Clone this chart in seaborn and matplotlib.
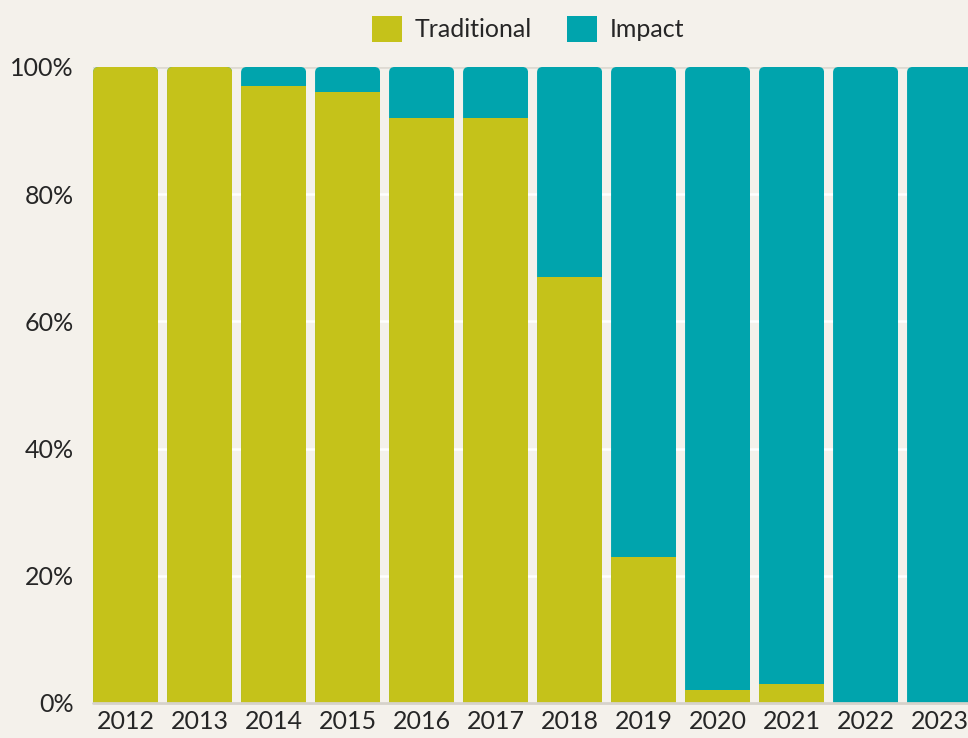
import matplotlib
matplotlib.use("Agg")
import matplotlib.pyplot as plt
import seaborn as sns
import pandas as pd
from matplotlib.patches import FancyBboxPatch, Patch

years = ["2012", "2013", "2014", "2015", "2016", "2017", "2018", "2019", "2020", "2021", "2022", "2023"]
traditional = [100, 100, 97, 96, 92, 92, 67, 23, 2, 3, 0, 0]
impact = [0, 0, 3, 4, 8, 8, 33, 77, 98, 97, 100, 100]
y_ticks = [0, 20, 40, 60, 80, 100]
y_labels = ["0%", "20%", "40%", "60%", "80%", "100%"]

BG = "#f4f1eb"
YEL = "#c5c21a"
TEAL = "#00a4ad"
TXT = "#262626"

df = pd.DataFrame({"year": years, "traditional": traditional, "impact": impact})
df["total"] = df["traditional"] + df["impact"]

sns.set_theme(style="white")
plt.rcParams["font.family"] = ["Lato", "DejaVu Sans"]

fig = plt.figure(figsize=(9.68, 7.38), dpi=100, facecolor=BG)
ax_left_px, ax_bottom_px, ax_top_px = 93, 703, 67
bar_step = 74.0
xmin, xmax = -0.44, 11.5
ax_w_px = (xmax - xmin) * bar_step
ax = fig.add_axes([ax_left_px / 968, (738 - ax_bottom_px) / 738,
                   ax_w_px / 968, (ax_bottom_px - ax_top_px) / 738])
ax.set_facecolor(BG)

width = 65 / 74
sns.barplot(data=df, x="year", y="total", color=TEAL, width=width, saturation=1,
            ax=ax, zorder=2, linewidth=0)
sns.barplot(data=df, x="year", y="traditional", color=YEL, width=width, saturation=1,
            ax=ax, zorder=3, linewidth=0)

ax.set_xlim(xmin, xmax)
ax.set_ylim(0, 100)

# rounded top corners via clip paths
px_per_y = (ax_bottom_px - ax_top_px) / 100.0
aspect = bar_step / px_per_y
r = 5.5 / bar_step
for p in ax.patches:
    x0 = p.get_x()
    w = p.get_width()
    clip = FancyBboxPatch((x0, -10), w, 110,
                          boxstyle=f"round,pad=0,rounding_size={r}",
                          mutation_aspect=aspect, transform=ax.transData,
                          facecolor="none", edgecolor="none")
    p.set_clip_path(clip)

ax.set_yticks(y_ticks)
ax.set_yticklabels(y_labels)
ax.grid(axis="y", color="white", linewidth=1.8, zorder=0)
ax.grid(axis="x", visible=False)
ax.set_axisbelow(True)
ax.axhline(100, color="#dedad2", linewidth=2, zorder=1)
ax.axhline(0, color="#d6d2ca", linewidth=2, zorder=4, clip_on=False)
for s in ax.spines.values():
    s.set_visible(False)
ax.set_xlabel("")
ax.set_ylabel("")
ax.tick_params(axis="y", length=0, pad=14, labelsize=18, labelcolor=TXT)
ax.tick_params(axis="x", length=0, pad=5, labelsize=18, labelcolor=TXT)

handles = [Patch(facecolor=YEL, edgecolor="none", label="Traditional"),
           Patch(facecolor=TEAL, edgecolor="none", label="Impact")]
fig.legend(handles=handles, loc="center", bbox_to_anchor=(528 / 968, 1 - 29 / 738),
           ncol=2, frameon=False, fontsize=18, labelcolor=TXT,
           handlelength=1.2, handleheight=1.2, handletextpad=0.5,
           columnspacing=1.4)

fig.savefig("out.png", dpi=100, facecolor=BG)
